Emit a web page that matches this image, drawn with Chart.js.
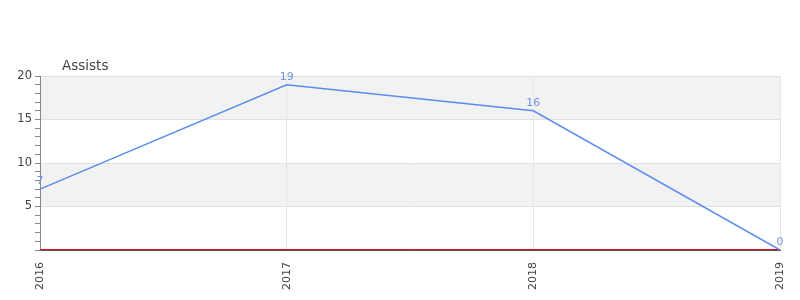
<!DOCTYPE html>
<html>
<head>
<meta charset="utf-8">
<script src="https://cdn.jsdelivr.net/npm/chart.js@4"></script>
<style>
html,body{margin:0;padding:0;background:#fff;}
#wrap{width:800px;height:300px;}
</style>
</head>
<body>
<div id="wrap"><canvas id="c" width="800" height="300"></canvas></div>
<script>
const categories = ['2016', '2017', '2018', '2019'];
const assists = [7, 19, 16, 0];
const zeroLine = [0, 0, 0, 0];
const yTickLabels = [5, 10, 15, 20];
const bands = [[5, 10], [15, 20]];
const titleText = 'Assists';

const FONT = 'DejaVu Sans';

const bandPlugin = {
  id: 'bands',
  beforeDraw(chart) {
    const {ctx, chartArea, scales} = chart;
    const y = scales.y;
    ctx.save();
    ctx.fillStyle = '#f2f2f2';
    bands.forEach(([a, b]) => {
      const y1 = y.getPixelForValue(b), y2 = y.getPixelForValue(a);
      ctx.fillRect(chartArea.left, y1, chartArea.right - chartArea.left, y2 - y1);
    });
    ctx.restore();
  }
};

const labelPlugin = {
  id: 'vlabels',
  afterDatasetsDraw(chart) {
    const {ctx} = chart;
    const meta = chart.getDatasetMeta(0);
    ctx.save();
    ctx.font = '11px "' + FONT + '"';
    ctx.fillStyle = '#6d95e6';
    ctx.textAlign = 'center';
    ctx.textBaseline = 'bottom';
    meta.data.forEach((pt, i) => {
      ctx.fillText(String(assists[i]), pt.x, pt.y - 2);
    });
    ctx.restore();
  }
};

const titlePlugin = {
  id: 'ytitle',
  afterDraw(chart) {
    const {ctx, chartArea} = chart;
    ctx.save();
    ctx.font = '13.5px "' + FONT + '"';
    ctx.fillStyle = '#444';
    ctx.textAlign = 'left';
    ctx.textBaseline = 'middle';
    ctx.fillText(titleText, chartArea.left + 22, chartArea.top - 10);
    ctx.restore();
  }
};

new Chart(document.getElementById('c'), {
  type: 'line',
  data: {
    labels: categories,
    datasets: [
      {
        label: 'Assists',
        data: assists,
        borderColor: '#5b8def',
        borderWidth: 1.5,
        pointRadius: 0,
        tension: 0,
        fill: false,
        order: 0
      },
      {
        label: 'zero',
        data: zeroLine,
        borderColor: '#d11',
        borderWidth: 2,
        pointRadius: 0,
        fill: false,
        clip: 0,
        order: 1
      }
    ]
  },
  options: {
    responsive: false,
    animation: false,
    events: [],
    layout: {padding: {top: 76, right: 20, left: 0, bottom: 0}},
    plugins: {legend: {display: false}, tooltip: {enabled: false}, title: {display: false}},
    scales: {
      x: {
        offset: false,
        grid: {color: '#e6e6e6', drawTicks: false},
        border: {color: '#555', width: 1},
        ticks: {
          font: {family: FONT, size: 11},
          color: '#444',
          minRotation: 90,
          maxRotation: 90,
          padding: 12
        },
        afterFit(s) { s.height = 50; s.paddingLeft = 0; s.paddingRight = 0; }
      },
      y: {
        min: 0,
        max: 20,
        grid: {
          color: (c) => (yTickLabels.includes(c.tick.value) ? '#e0e0e0' : 'transparent'),
          tickColor: '#888',
          tickLength: 5,
          drawOnChartArea: true
        },
        border: {color: '#888', width: 1},
        ticks: {
          stepSize: 1,
          autoSkip: false,
          font: {family: FONT, size: 11.5},
          color: '#444',
          padding: 3,
          callback: (v) => (yTickLabels.includes(v) ? String(v) : '')
        },
        afterFit(s) { s.width = 40; s.paddingTop = 0; s.paddingBottom = 0; }
      }
    }
  },
  plugins: [bandPlugin, labelPlugin, titlePlugin]
});
</script>
</body>
</html>
